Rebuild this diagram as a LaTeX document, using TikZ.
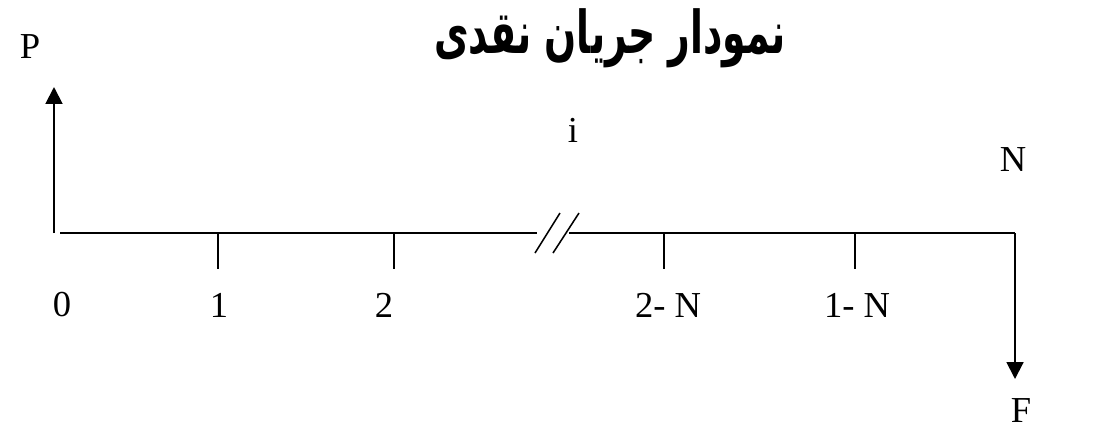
\documentclass[tikz,border=0pt]{standalone}
\usepackage{fontspec}
\setmainfont{Liberation Serif}
\newfontfamily\arabicfont[Script=Arabic]{DejaVu Sans}
\TeXXeTstate=1
\usepackage{tikz}
\usetikzlibrary{arrows.meta, positioning, calc}

\begin{document}
\begin{tikzpicture}[
    x=0.025cm, y=-0.025cm,
    axis/.style={line width=1.4pt, draw=black},
    tick/.style={line width=1.1pt, draw=black},
    flow/.style={line width=1.4pt, -{Triangle[length=0.42cm, width=0.42cm]}},
    lbl/.style={font=\fontsize{26}{30}\selectfont, inner sep=0pt},
    title/.style={font=\arabicfont\bfseries\fontsize{40}{44}\selectfont, inner sep=0pt}
]
\useasboundingbox (0,0) rectangle (1096,429);

% Title
\node[title] (head) at (610,38) {\scalebox{0.67}[1.05]{\beginR نمودار جریان نقدی\endR}};

% Axis points
\coordinate (o) at (54,233);
\coordinate (a0) at (60,233);
\coordinate (bl) at (537,233);
\coordinate (br) at (569,233);
\coordinate (end) at (1015,233);
\coordinate (ptop) at (54,87);
\coordinate (fbot) at (1015,379);

% Time line with break
\draw[axis] (a0) -- (bl);
\draw[axis] (br) -- (end);
\draw[tick] (535,253) coordinate (s1a) -- (560,213) coordinate (s1b);
\draw[tick] (553,253) coordinate (s2a) -- (579,213) coordinate (s2b);

% Ticks
\foreach \nm/\xx in {t1/218, t2/394, tn2/664, tn1/855} {
    \coordinate (\nm) at (\xx,233);
    \coordinate (\nm b) at (\xx,269);
    \draw[tick] (\nm) -- (\nm b);
}

% Cash flows
\draw[flow] (o) -- (ptop);
\draw[flow] (end) -- (fbot);

% Labels
\node[lbl] (l0) at (62,305) {0};
\node[lbl] (l1) at (219,305) {1};
\node[lbl] (l2) at (384,305) {2};
\node[lbl] (ln2) at (668,305) {2- N};
\node[lbl] (ln1) at (857,305) {1- N};
\node[lbl] (p) at (30,47) {P};
\node[lbl] (i) at (573,130) {i};
\node[lbl] (n) at (1013,160) {N};
\node[lbl, anchor=base] (f) at (1021,422) {F};

\end{tikzpicture}
\end{document}
